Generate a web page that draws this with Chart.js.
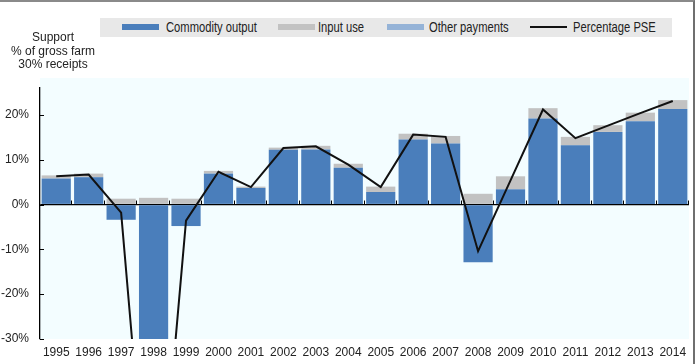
<!DOCTYPE html>
<html>
<head>
<meta charset="utf-8">
<script src="https://cdn.jsdelivr.net/npm/chart.js@4/dist/chart.umd.min.js"></script>
<style>
body { margin: 0; background: #fff; }
#wrap { position: relative; width: 697px; height: 364px; overflow: hidden; font-family: "Liberation Sans", Arial, sans-serif; }
#frame { position: absolute; left: 0; top: 0; width: 695px; height: 364px; border-top: 2px solid #8a8a8a; border-right: 2px solid #6f6f6f; box-sizing: border-box; pointer-events: none; }
#ytitle { position: absolute; left: 0; top: 31px; width: 106px; text-align: center; font-size: 12px; line-height: 13.5px; color: #222; }
#legend { position: absolute; left: 100px; top: 18px; width: 572px; height: 19px; background: #e8e8e8; }
.item { position: absolute; top: 0; height: 19px; line-height: 19px; font-size: 14px; color: #222; white-space: nowrap; transform: scaleX(0.8); transform-origin: left center; }
.sw { position: absolute; top: 6px; width: 37px; height: 6px; }
.ln { position: absolute; top: 8px; width: 37px; height: 2px; }
canvas { position: absolute; left: 0; top: 0; }
</style>
</head>
<body>
<div id="wrap">
  <canvas id="chart" width="697" height="364"></canvas>
  <div id="ytitle">Support<br>% of gross farm<br>30% receipts</div>
  <div id="legend"></div>
  <div id="frame"></div>
</div>
<script>
// données (en % des recettes agricoles brutes)
const years = ['1995','1996','1997','1998','1999','2000','2001','2002','2003','2004','2005','2006','2007','2008','2009','2010','2011','2012','2013','2014'];
const commodityOutput = [5.8, 6.1, -3.4, -87, -4.8, 6.9, 3.7, 12.2, 12.3, 8.2, 2.8, 14.5, 13.6, -12.9, 3.4, 19.2, 13.2, 16.2, 18.6, 21.3];
const inputUse = [0.7, 0.8, 1.3, 1.5, 1.3, 0.6, 0.3, 0.5, 0.8, 0.9, 1.2, 1.3, 1.7, 2.4, 2.9, 2.3, 1.9, 1.5, 1.9, 2.0];
const otherPayments = [0, 0, 0, 0, 0, 0, 0, 0, 0, 0, 0, 0, 0, 0, 0, 0, 0, 0, 0, 0];
const percentagePSE = [6.3, 6.7, -1.8, -86, -3.6, 7.3, 3.9, 12.6, 13.0, 8.9, 3.9, 15.6, 15.1, -10.4, 5.4, 21.2, 14.8, 17.6, 20.4, 23.1];
const yTicks = [-30, -20, -10, 0, 10, 20];

const seriesNames = ['Commodity output', 'Input use', 'Other payments', 'Percentage PSE'];
const seriesColors = ['#4a7ebb', '#c2c2c2', '#95b3d7', '#111111'];

const FONT = '"Liberation Sans", Arial, sans-serif';

// légende HTML
const legendPos = [[22, 66], [178, 218], [287, 329], [430, 473]];
document.getElementById('legend').innerHTML = seriesNames.map((name, i) => `
    <div class="${i === 3 ? 'ln' : 'sw'}" style="left:${legendPos[i][0]}px; background:${seriesColors[i]};"></div>
    <div class="item" style="left:${legendPos[i][1]}px;">${name}</div>
`).join('');

// fond du graphique + petites graduations
const decor = {
    id: 'decor',
    beforeDraw(chart) {
        const { ctx, chartArea: a } = chart;
        ctx.save();
        ctx.fillStyle = '#f3fdff';
        ctx.fillRect(a.left, a.top - 10, a.right - a.left, a.bottom - a.top + 10);
        ctx.restore();
    },
    afterDraw(chart) {
        const { ctx, chartArea: a, scales } = chart;
        ctx.save();
        ctx.strokeStyle = '#000';
        ctx.lineWidth = 1;
        yTicks.forEach(v => {
            const y = Math.round(scales.y.getPixelForValue(v)) + 0.5;
            ctx.beginPath(); ctx.moveTo(a.left, y); ctx.lineTo(a.left + 4, y); ctx.stroke();
        });
        const y0 = scales.y.getPixelForValue(0);
        const step = (a.right - a.left) / years.length;
        for (let i = 1; i <= years.length; i++) {
            const x = Math.round(a.left + i * step) - 0.5;
            ctx.beginPath(); ctx.moveTo(x, y0); ctx.lineTo(x, y0 - 4); ctx.stroke();
        }
        ctx.restore();
    }
};

const barDs = (label, data, color) => ({
    type: 'bar', label, data, backgroundColor: color, borderWidth: 0,
    barPercentage: 0.9, categoryPercentage: 1.0, stack: 'pse', order: 2
});

new Chart(document.getElementById('chart'), {
    data: {
        labels: years,
        datasets: [
            barDs(seriesNames[0], commodityOutput, seriesColors[0]),
            barDs(seriesNames[1], inputUse, seriesColors[1]),
            barDs(seriesNames[2], otherPayments, seriesColors[2]),
            {
                type: 'line', label: seriesNames[3], data: percentagePSE,
                borderColor: seriesColors[3], borderWidth: 2, pointRadius: 0,
                tension: 0, order: 0
            }
        ]
    },
    options: {
        responsive: false,
        animation: false,
        layout: { padding: { top: 88, right: 8, left: 0, bottom: 0 } },
        plugins: { legend: { display: false }, tooltip: { enabled: false } },
        scales: {
            x: {
                stacked: true,
                grid: { display: false, drawTicks: false },
                border: { display: false },
                ticks: { color: '#222', font: { family: FONT, size: 12 }, padding: 6, maxRotation: 0, autoSkip: false },
                afterFit(s) { s.height = 25; }
            },
            y: {
                stacked: true,
                min: -30, max: 26,
                afterBuildTicks(s) { s.ticks = yTicks.map(v => ({ value: v })); },
                grid: {
                    drawTicks: false,
                    color: c => (c.tick && c.tick.value === 0 ? '#000' : 'rgba(0,0,0,0)'),
                    lineWidth: 1.3
                },
                border: { display: true, color: '#000', width: 1.3 },
                ticks: { color: '#222', font: { family: FONT, size: 12 }, padding: 11, callback: v => v + '%' },
                afterFit(s) { s.width = 40; }
            }
        }
    },
    plugins: [decor]
});
</script>
</body>
</html>
